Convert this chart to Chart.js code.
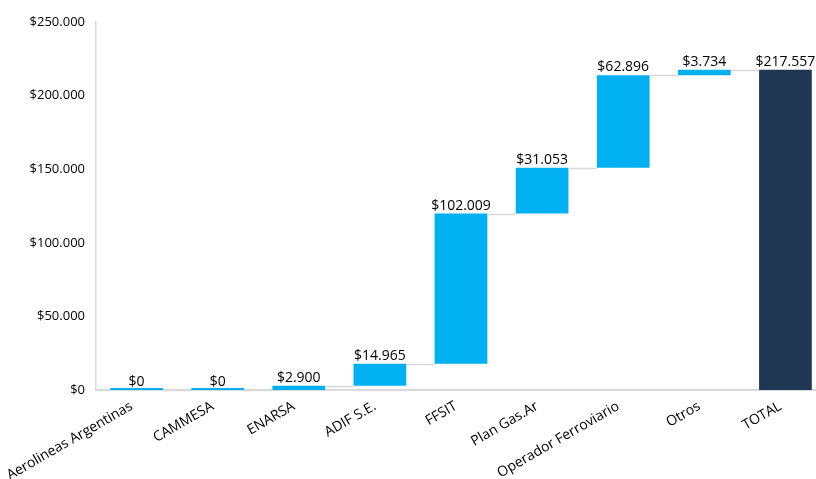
<!DOCTYPE html>
<html>
<head>
<meta charset="utf-8">
<script src="https://cdn.jsdelivr.net/npm/chart.js@4"></script>
<style>
  html, body { margin: 0; padding: 0; background: #fff; overflow: hidden; }
  #wrap { width: 816px; height: 479px; overflow: hidden; }
</style>
</head>
<body>
<div id="wrap"><canvas id="myChart" width="826" height="479"></canvas></div>
<script>
'use strict';

// categories and amounts
const categories = ['Aerolineas Argentinas', 'CAMMESA', 'ENARSA', 'ADIF S.E.', 'FFSIT',
  'Plan Gas.Ar', 'Operador Ferroviario', 'Otros', 'TOTAL'];
const amounts = [0, 0, 2900, 14965, 102009, 31053, 62896, 3734, 217557];
const yTicks = [0, 50000, 100000, 150000, 200000, 250000];

const barColor = '#00B0F0';
const totalColor = '#203754';
const lineColor = '#D9D9D9';

// helper to format with dot thousands
function money(v) {
  return '$' + String(Math.round(v)).replace(/\B(?=(\d{3})+(?!\d))/g, '.');
}

// build floating bars: each step starts where the previous one ended, last is the total
const floating = [];
let running = 0;
amounts.forEach((v, i) => {
  if (i === amounts.length - 1) {
    floating.push([0, v]);
  } else {
    floating.push([running, running + v]);
    running += v;
  }
});

// connectors + value labels
const waterfallPlugin = {
  id: 'waterfall',
  afterDatasetsDraw(chart) {
    const ctx = chart.ctx;
    const meta = chart.getDatasetMeta(0);
    const yScale = chart.scales.y;
    ctx.save();
    ctx.strokeStyle = lineColor;
    ctx.lineWidth = 1.5;
    for (let i = 0; i < meta.data.length - 1; i++) {
      const a = meta.data[i];
      const b = meta.data[i + 1];
      const y = Math.round(yScale.getPixelForValue(floating[i][1])) + 0.5;
      ctx.beginPath();
      ctx.moveTo(a.x + a.width / 2, y);
      ctx.lineTo(b.x - b.width / 2, y);
      ctx.stroke();
    }
    ctx.fillStyle = '#000';
    ctx.font = '14px "Open Sans"';
    ctx.textAlign = 'center';
    ctx.textBaseline = 'alphabetic';
    meta.data.forEach((bar, i) => {
      const top = yScale.getPixelForValue(floating[i][1]);
      ctx.fillText(money(amounts[i]), bar.x, top - 4);
    });
    ctx.restore();
  },
};

new Chart(document.getElementById('myChart'), {
  type: 'bar',
  data: {
    labels: categories,
    datasets: [
      {
        data: floating,
        backgroundColor: amounts.map((v, i) => (i === amounts.length - 1 ? totalColor : barColor)),
        borderWidth: 0,
        borderSkipped: false,
        minBarLength: 2,
        barPercentage: 0.65,
        categoryPercentage: 1,
      },
    ],
  },
  options: {
    responsive: false,
    animation: false,
    layout: { padding: { top: 22, left: 0, right: 0, bottom: 0 } },
    plugins: {
      legend: { display: false },
      tooltip: { enabled: false },
    },
    scales: {
      x: {
        grid: { display: false, drawTicks: false },
        border: { display: true, color: lineColor, width: 2 },
        ticks: {
          color: '#000',
          font: { family: 'Open Sans', size: 14 },
          minRotation: 30,
          maxRotation: 30,
          padding: 8,
          labelOffset: -5,
        },
        afterFit(scale) {
          scale.height = 89;
          scale.paddingLeft = 0;
          scale.paddingRight = 0;
        },
      },
      y: {
        min: 0,
        max: 250000,
        grid: { display: false, drawTicks: false },
        border: { display: true, color: lineColor, width: 1.5 },
        afterBuildTicks(scale) {
          scale.ticks = yTicks.map((v) => ({ value: v }));
        },
        ticks: {
          color: '#000',
          font: { family: 'Open Sans', size: 13 },
          padding: 11,
          callback: (v) => money(v),
        },
        afterFit(scale) {
          scale.width = 96;
        },
      },
    },
  },
  plugins: [waterfallPlugin],
});
</script>
</body>
</html>
